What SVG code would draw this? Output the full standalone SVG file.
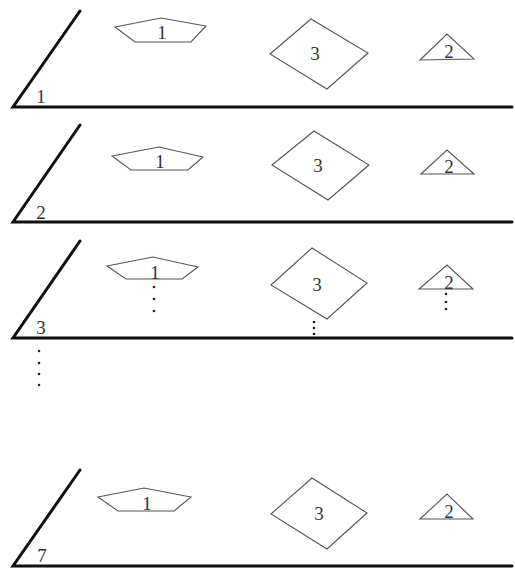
<svg xmlns="http://www.w3.org/2000/svg" width="515" height="568" viewBox="0 0 515 568">
<style>
.base{stroke:#111;stroke-width:3;fill:none;stroke-linecap:round}
.shape{stroke:#555;stroke-width:1.1;fill:none;stroke-linejoin:miter}
.lbl{font-family:"Liberation Serif","DejaVu Serif",serif;font-size:19px;fill:#333;text-anchor:middle}
.dot{fill:#222}
</style>
<rect width="515" height="568" fill="#fff"/>
<g id="plane1">
<path class="base" d="M80,11 L13,107 L512,107"/>
<text class="lbl" x="41" y="103">1</text>
</g>
<g id="p1-n1"><polygon class="shape" points="115,27 161,18 206,26 191,42 135,42"/><text class="lbl" x="162" y="39">1</text></g>
<g id="p1-n3"><polygon class="shape" points="270,54 311,19 368,53 327,89"/><text class="lbl" x="315" y="60">3</text></g>
<g id="p1-n2"><polygon class="shape" points="420,60 447,34 474,59"/><text class="lbl" x="449" y="58">2</text></g>

<g id="plane2">
<path class="base" d="M80,125 L13,222 L512,222"/>
<text class="lbl" x="41" y="219">2</text>
</g>
<g id="p2-n1"><polygon class="shape" points="112,156 159,147 203,157 188,170 131,170"/><text class="lbl" x="160" y="168">1</text></g>
<g id="p2-n3"><polygon class="shape" points="272,165 314,131 369,165 328,200"/><text class="lbl" x="318" y="172">3</text></g>
<g id="p2-n2"><polygon class="shape" points="421,174 447,150 474,174"/><text class="lbl" x="449" y="173">2</text></g>

<g id="plane3">
<path class="base" d="M80,241 L13,338 L512,338"/>
<text class="lbl" x="41" y="334">3</text>
</g>
<g id="p3-n1"><polygon class="shape" points="107,266 153,257 198,267 182,279 126,279"/><text class="lbl" x="155" y="279">1</text></g>
<g id="p3-n3"><polygon class="shape" points="271,285 312,248 367,283 327,319"/><text class="lbl" x="317" y="291">3</text></g>
<g id="p3-n2"><polygon class="shape" points="419,289 447,265 473,289"/><text class="lbl" x="449" y="289">2</text></g>

<g id="plane7">
<path class="base" d="M80,470 L13,566 L512,566"/>
<text class="lbl" x="42" y="562">7</text>
</g>
<g id="p7-n1"><polygon class="shape" points="98,497 144,488 191,497 174,511 118,511"/><text class="lbl" x="147" y="510">1</text></g>
<g id="p7-n3"><polygon class="shape" points="271,514 312,478 367,513 327,549"/><text class="lbl" x="319" y="520">3</text></g>
<g id="p7-n2"><polygon class="shape" points="420,519 447,494 473,519"/><text class="lbl" x="449" y="518">2</text></g>

<g id="connectors">
<circle class="dot" cx="154" cy="287" r="1.3"/>
<circle class="dot" cx="154" cy="299" r="1.3"/>
<circle class="dot" cx="154" cy="311" r="1.3"/>
<circle class="dot" cx="314" cy="322" r="1.3"/>
<circle class="dot" cx="314" cy="328" r="1.3"/>
<circle class="dot" cx="314" cy="334" r="1.3"/>
<circle class="dot" cx="446" cy="294" r="1.3"/>
<circle class="dot" cx="446" cy="302" r="1.3"/>
<circle class="dot" cx="446" cy="309" r="1.3"/>
<circle class="dot" cx="39" cy="351" r="1.3"/>
<circle class="dot" cx="39" cy="363" r="1.3"/>
<circle class="dot" cx="39" cy="374" r="1.3"/>
<circle class="dot" cx="39" cy="385" r="1.3"/>
</g>
</svg>
